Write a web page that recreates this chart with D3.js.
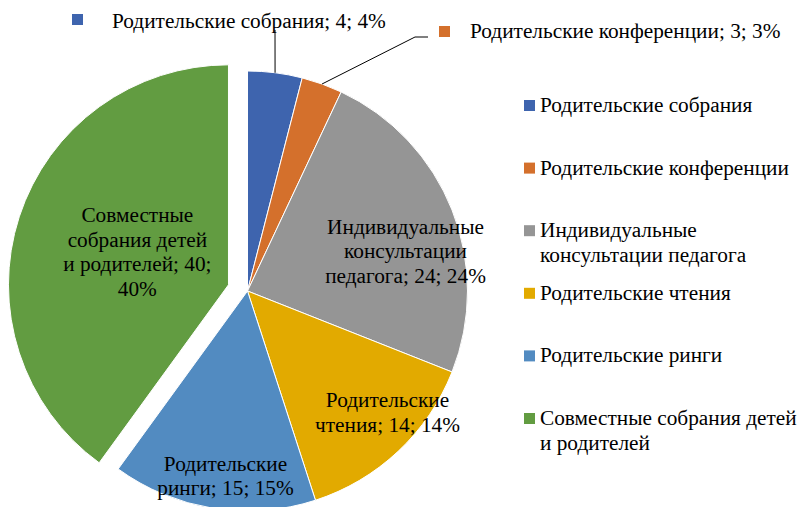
<!DOCTYPE html>
<html>
<head>
<meta charset="utf-8">
<script src="https://cdn.jsdelivr.net/npm/d3@7"></script>
<style>
  body { margin: 0; background: #fff; }
  svg { display: block; }
  text { font-family: "Liberation Serif", "Times New Roman", serif; fill: #000; }
</style>
</head>
<body>
<svg id="chart" width="797" height="507"></svg>
<script>
// data
var categories = ["Родительские собрания", "Родительские конференции", "Индивидуальные консультации педагога",
                  "Родительские чтения", "Родительские ринги", "Совместные собрания детей и родителей"];
var values = [4, 3, 24, 14, 15, 40];
var percents = ["4%", "3%", "24%", "14%", "15%", "40%"];
var colors = ["#3E64AE", "#D4702C", "#959595", "#E2AA00", "#528BC1", "#629C41"];

// how the legend and the inside labels wrap
var legendLines = [["Родительские собрания"], ["Родительские конференции"], ["Индивидуальные", "консультации педагога"],
                   ["Родительские чтения"], ["Родительские ринги"], ["Совместные собрания детей", "и родителей"]];
var labelLines = [null, null,
                  ["Индивидуальные", "консультации", "педагога; 24; 24%"],
                  ["Родительские", "чтения; 14; 14%"],
                  ["Родительские", "ринги; 15; 15%"],
                  ["Совместные", "собрания детей", "и родителей; 40;", "40%"]];

var W = 797, H = 507;
var cx = 247.5, cy = 291, R = 220;
var fontSize = 21.3, lineH = 24.5;

var svg = d3.select("#chart");
svg.append("rect").attr("width", W).attr("height", H).attr("fill", "#fff");

var pie = d3.pie().sort(null).value(function(d) { return d; });
var arcs = pie(values);
var arc = d3.arc().innerRadius(0).outerRadius(R);

function mid(d) { return (d.startAngle + d.endAngle) / 2; }
function polar(r, a) { return [Math.sin(a) * r, -Math.cos(a) * r]; }

// green slice is pulled out of the pie
var explode = [0, 0, 0, 0, 0, 20];

var g = svg.append("g").attr("transform", "translate(" + cx + "," + cy + ")");

g.selectAll("path.slice")
  .data(arcs)
  .enter().append("path")
  .attr("class", "slice")
  .attr("d", arc)
  .attr("transform", function(d, i) {
    var p = polar(explode[i], mid(d));
    return "translate(" + p[0] + "," + p[1] + ")";
  })
  .attr("fill", function(d, i) { return colors[i]; })
  .attr("stroke", "#fff")
  .attr("stroke-width", 1);

// inside labels: radius and angle nudge (degrees) per slice
var labelPos = [null, null, {r: 163, da: 7.4}, {r: 185, da: -6}, {r: 186, da: -2.2}, {r: 97, da: 2}];

arcs.forEach(function(d, i) {
  if (!labelLines[i]) return;
  var lp = labelPos[i];
  var off = polar(explode[i], mid(d));
  var p = polar(lp.r, mid(d) + lp.da * Math.PI / 180);
  var x = p[0] + off[0], y = p[1] + off[1];
  var lines = labelLines[i];
  var y0 = y - (lines.length - 1) * lineH / 2 + fontSize * 0.35;
  var t = g.append("text")
    .attr("text-anchor", "middle")
    .style("font-size", fontSize + "px");
  lines.forEach(function(s, k) {
    t.append("tspan").attr("x", x).attr("y", y0 + k * lineH).text(s);
  });
});

// outside labels with leader lines (first two small slices)
var outside = [
  {i: 0, pts: [[275, 30]], key: [72, 14], tx: 112, ty: 28},
  {i: 1, pts: [[415, 37], [428, 37]], key: [439, 26], tx: 470, ty: 38}
];
outside.forEach(function(o) {
  var d = arcs[o.i];
  var s = polar(R, mid(d));
  var pts = [[cx + s[0], cy + s[1]]].concat(o.pts);
  svg.append("path")
    .attr("d", d3.line()(pts))
    .attr("fill", "none")
    .attr("stroke", "#000")
    .attr("stroke-width", 1);
  svg.append("rect")
    .attr("x", o.key[0]).attr("y", o.key[1])
    .attr("width", 11).attr("height", 11)
    .attr("fill", colors[o.i]);
  svg.append("text")
    .attr("x", o.tx).attr("y", o.ty)
    .style("font-size", fontSize + "px")
    .text(categories[o.i] + "; " + values[o.i] + "; " + percents[o.i]);
});

// legend
var legendY = d3.scalePoint().domain(d3.range(categories.length)).range([100, 413]);
var lg = svg.append("g").attr("class", "legend");
categories.forEach(function(c, i) {
  var y = legendY(i);
  lg.append("rect")
    .attr("x", 524).attr("y", y)
    .attr("width", 11).attr("height", 11)
    .attr("fill", colors[i]);
  var t = lg.append("text").style("font-size", fontSize + "px");
  legendLines[i].forEach(function(s, k) {
    t.append("tspan").attr("x", 540).attr("y", y + 12 + k * 25).text(s);
  });
});
</script>
</body>
</html>
